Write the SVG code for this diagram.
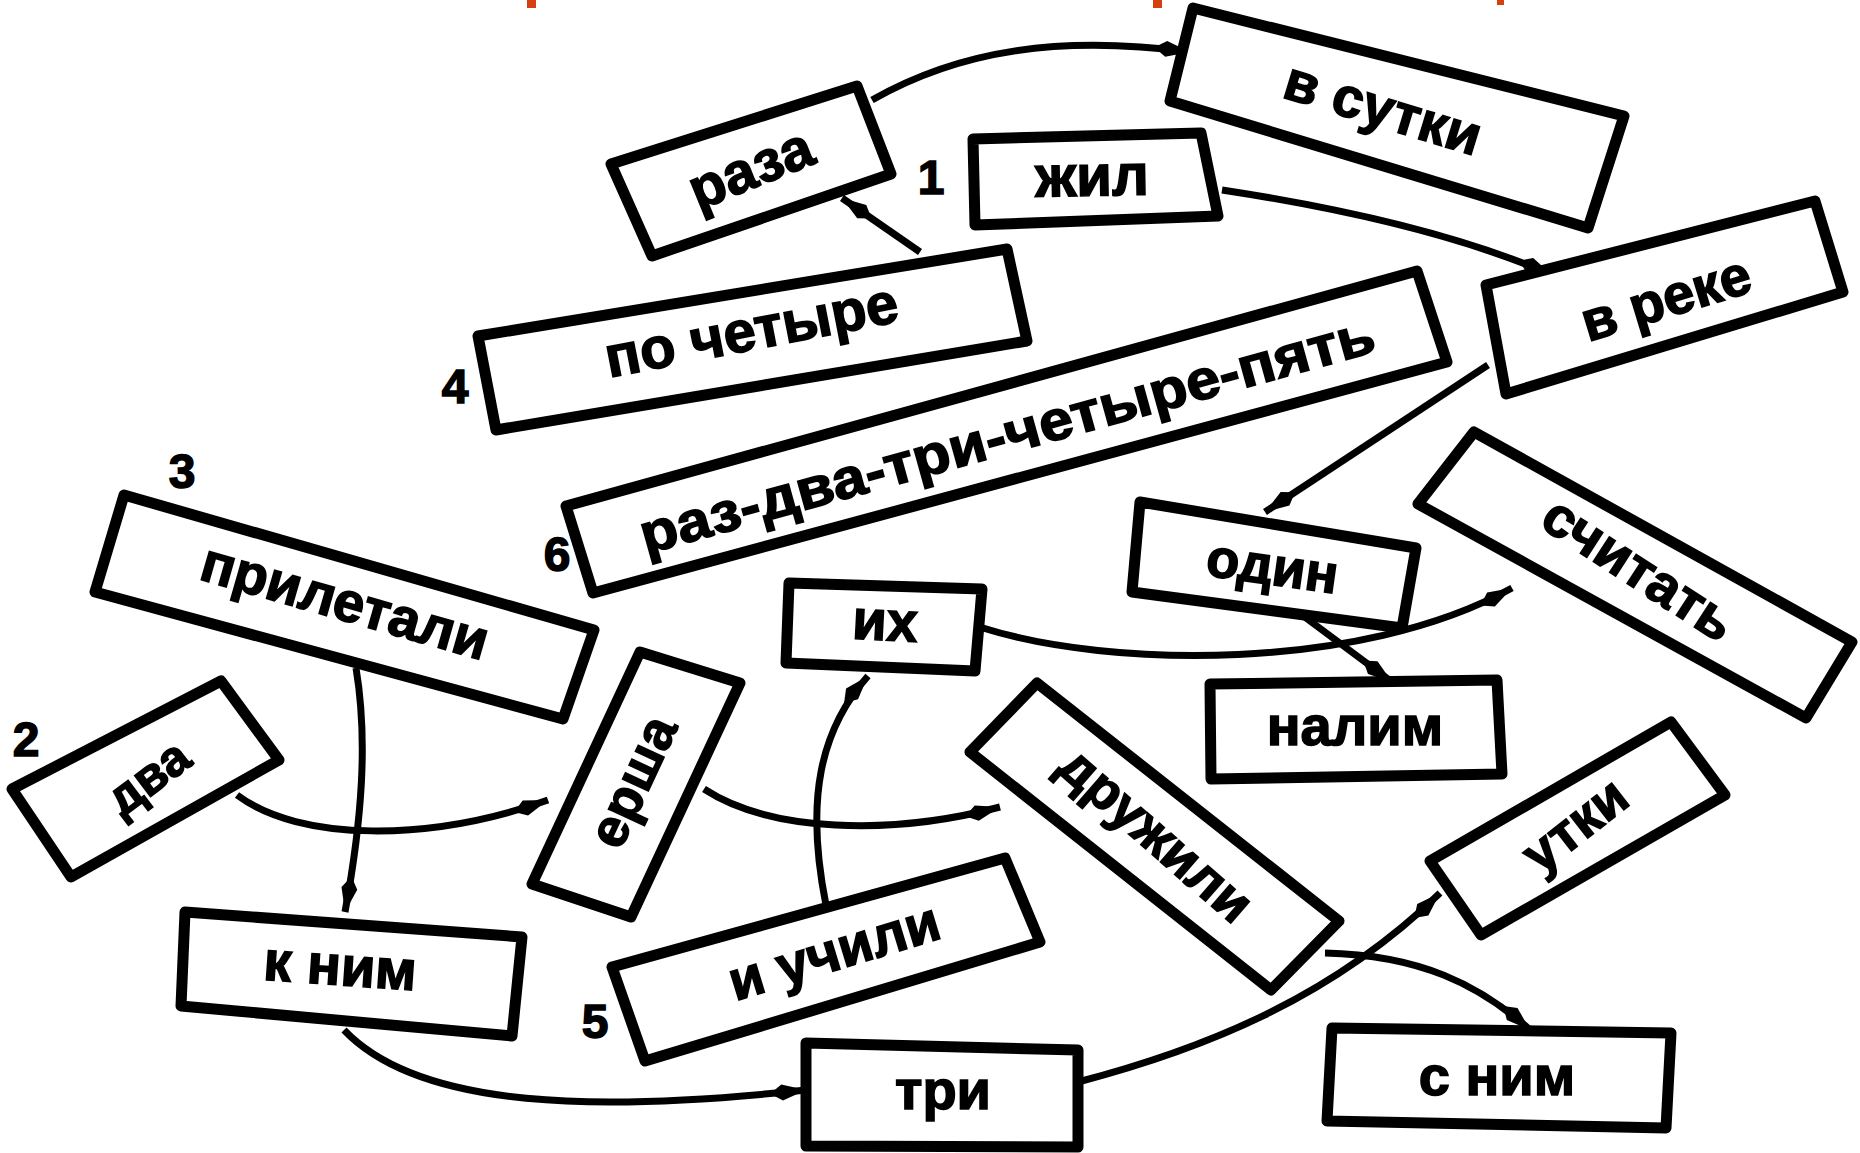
<svg xmlns="http://www.w3.org/2000/svg" width="1860" height="1153" viewBox="0 0 1860 1153">
<defs>
<marker id="ah" markerUnits="userSpaceOnUse" markerWidth="40" markerHeight="22" refX="36" refY="11" orient="auto">
<path d="M0,11 L12,3 L36,11 L12,19 Z" fill="#000"/>
</marker>
<style>
.box{fill:#fff;stroke:#000;stroke-width:11;stroke-linejoin:round}
.lbl{font-family:"Liberation Sans","DejaVu Sans",sans-serif;font-weight:bold;fill:#000;stroke:#000;stroke-width:1.5;text-anchor:middle}
.num{font-family:"Liberation Sans","DejaVu Sans",sans-serif;font-weight:bold;fill:#000;stroke:#000;stroke-width:1.5;text-anchor:middle;font-size:48px}
.con{fill:none;stroke:#000;stroke-width:7;marker-end:url(#ah)}
.red{fill:#d4400f}
</style>
</defs>
<rect width="1860" height="1153" fill="#fff"/>
<g id="red-marks">
<rect class="red" x="527" y="0" width="9" height="8"/>
<rect class="red" x="1153" y="0" width="9" height="8"/>
<rect class="red" x="1497" y="0" width="7" height="5"/>
</g>
<g id="connectors">
<path class="con" d="M 872,100 C 960,50 1060,35 1190,52"/>
<path class="con" d="M 920,252 L 842,198"/>
<path class="con" d="M 1222,190 C 1340,208 1460,235 1552,275"/>
<path class="con" d="M 1488,365 L 1265,512"/>
<path class="con" d="M 983,628 C 1110,668 1360,672 1512,588"/>
<path class="con" d="M 1298,612 L 1392,682"/>
<path class="con" d="M 356,668 C 368,740 362,820 345,912"/>
<path class="con" d="M 237,795 C 300,842 430,842 548,800"/>
<path class="con" d="M 704,789 C 770,832 890,836 1000,807"/>
<path class="con" d="M 826,905 C 805,800 820,730 868,676"/>
<path class="con" d="M 344,1030 C 420,1110 600,1112 806,1090"/>
<path class="con" d="M 1078,1082 C 1200,1050 1330,1000 1440,893"/>
<path class="con" d="M 1325,953 C 1420,955 1480,985 1530,1030"/>
</g>
<g id="n-raza"><polygon class="box" points="611,164 857,86 891,174 652,256"/><text class="lbl" font-size="58" dy=".27em" transform="translate(752,172) rotate(-22)">раза</text></g>
<g id="label-1"><text class="num" x="931" y="194">1</text></g>
<g id="n-zhil"><polygon class="box" points="973,139 1201,133 1218,216 975,225"/><text class="lbl" font-size="58" dy=".27em" transform="translate(1092,180) rotate(-1)">жил</text></g>
<g id="n-vsutki"><polygon class="box" points="1193,8 1624,116 1588,228 1170,101"/><text class="lbl" font-size="56" dy=".27em" transform="translate(1382,112) rotate(17)">в сутки</text></g>
<g id="n-vreke"><polygon class="box" points="1486,285 1815,201 1843,292 1506,394"/><text class="lbl" font-size="56" dy=".27em" transform="translate(1667,302) rotate(-17)">в реке</text></g>
<g id="n-pochetyre"><polygon class="box" points="478,336 1007,249 1027,341 496,430"/><text class="lbl" font-size="58" dy=".27em" transform="translate(752,334) rotate(-11)">по четыре</text></g>
<g id="label-4"><text class="num" x="455" y="403">4</text></g>
<g id="n-razdva"><polygon class="box" points="566,506 1417,271 1447,362 593,593"/><text class="lbl" font-size="56" dy=".27em" textLength="760" lengthAdjust="spacingAndGlyphs" transform="translate(1008,438) rotate(-15.5)">раз-два-три-четыре-пять</text></g>
<g id="label-6"><text class="num" x="557" y="571">6</text></g>
<g id="label-3"><text class="num" x="182" y="488">3</text></g>
<g id="n-priletali"><polygon class="box" points="124,495 594,630 563,719 95,592"/><text class="lbl" font-size="56" dy=".27em" transform="translate(344,605) rotate(16)">прилетали</text></g>
<g id="label-2"><text class="num" x="26" y="756">2</text></g>
<g id="n-dva"><polygon class="box" points="12,789 221,681 279,760 71,877"/><text class="lbl" font-size="50" dy=".27em" transform="translate(150,780) rotate(-37)">два</text></g>
<g id="n-knim"><polygon class="box" points="185,912 522,937 512,1036 181,1006"/><text class="lbl" font-size="56" dy=".27em" transform="translate(340,970) rotate(4)">к ним</text></g>
<g id="n-ersha"><polygon class="box" points="640,652 740,683 631,917 532,884"/><text class="lbl" font-size="54" dy=".27em" transform="translate(636,783) rotate(-65)">ерша</text></g>
<g id="n-ikh"><polygon class="box" points="789,583 982,589 975,671 786,663"/><text class="lbl" font-size="56" dy=".27em" transform="translate(885,625) rotate(3)">их</text></g>
<g id="n-odin"><polygon class="box" points="1140,502 1416,548 1402,628 1132,592"/><text class="lbl" font-size="54" dy=".27em" transform="translate(1272,570) rotate(8)">один</text></g>
<g id="n-schitat"><polygon class="box" points="1474,432 1852,642 1806,718 1418,504"/><text class="lbl" font-size="56" dy=".27em" transform="translate(1637,572) rotate(33)">считать</text></g>
<g id="n-nalim"><polygon class="box" points="1210,684 1497,680 1502,774 1211,779"/><text class="lbl" font-size="56" dy=".27em" transform="translate(1355,730)">налим</text></g>
<g id="n-druzhili"><polygon class="box" points="1037,683 1339,921 1271,990 970,752"/><text class="lbl" font-size="54" dy=".27em" transform="translate(1154,837) rotate(41)">дружили</text></g>
<g id="n-utki"><polygon class="box" points="1671,722 1725,795 1481,935 1430,861"/><text class="lbl" font-size="54" dy=".27em" transform="translate(1577,828) rotate(-38)">утки</text></g>
<g id="n-iuchili"><polygon class="box" points="612,967 1005,858 1040,942 645,1061"/><text class="lbl" font-size="56" dy=".27em" transform="translate(835,955) rotate(-17)">и учили</text></g>
<g id="label-5"><text class="num" x="595" y="1038">5</text></g>
<g id="n-tri"><polygon class="box" points="806,1043 1078,1050 1078,1147 806,1146"/><text class="lbl" font-size="56" dy=".27em" transform="translate(943,1094)">три</text></g>
<g id="n-snim"><polygon class="box" points="1332,1028 1671,1033 1666,1128 1327,1121"/><text class="lbl" font-size="56" dy=".27em" transform="translate(1497,1080)">с ним</text></g>
</svg>
